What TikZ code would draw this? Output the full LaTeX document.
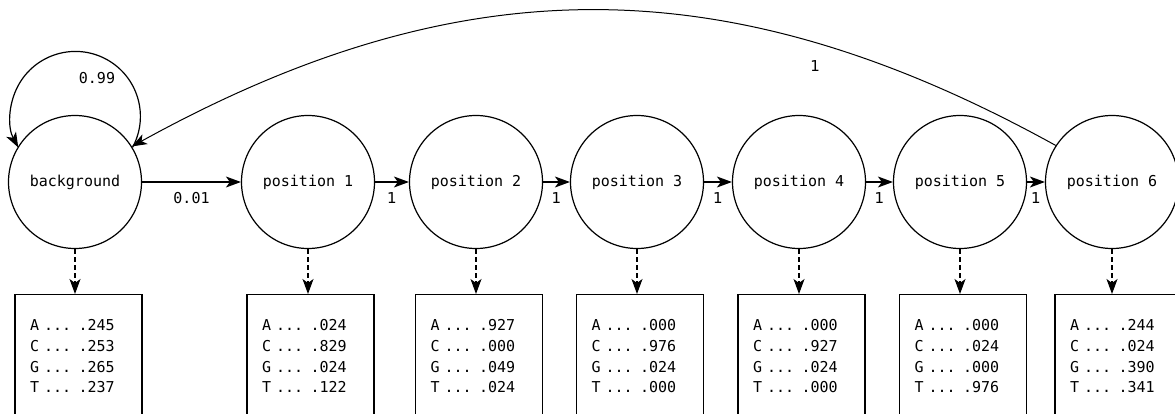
\documentclass[tikz,border=0pt]{standalone}
\usepackage{fontspec}
\newfontfamily\monof{DejaVu Sans Mono}[WordSpace={1,0,0}]
\newfontfamily\sansf{DejaVu Sans}
\usetikzlibrary{arrows.meta}
\begin{document}
\begin{tikzpicture}[x=1pt,y=1pt,
  state/.style={circle,draw,line width=1.2pt,minimum size=133pt,inner sep=0pt,font=\monof\fontsize{15}{18}\selectfont},
  emit/.style={rectangle,draw,line width=1.2pt,anchor=north,text width=97pt,align=left,inner xsep=15pt,inner ysep=25pt,font=\monof\fontsize{15}{20.7}\selectfont},
  trans/.style={-{Stealth[length=15pt,width=11pt,inset=4pt]},line width=1.2pt},
  gen/.style={trans,dash pattern=on 5pt off 3pt},
  plab/.style={font=\sansf\fontsize{15}{18}\selectfont},
  mlab/.style={font=\monof\fontsize{15}{18}\selectfont}]
\useasboundingbox (0,0) rectangle (1175,413);
\clip (0,0) rectangle (1175,413);

\node[state] (bg) at (75,231) {background};
\node[state] (p1) at (308,231) {position 1};
\node[state] (p2) at (476,231) {position 2};
\node[state] (p3) at (637,231) {position 3};
\node[state] (p4) at (799,231) {position 4};
\node[state] (p5) at (960,231) {position 5};
\node[state] (p6) at (1112,231) {position 6};

\node[emit] (ebg) at (78.5,119) {A ... .245\\C ... .253\\G ... .265\\T ... .237};
\node[emit] (e1) at (310.5,119) {A ... .024\\C ... .829\\G ... .024\\T ... .122};
\node[emit] (e2) at (479,119) {A ... .927\\C ... .000\\G ... .049\\T ... .024};
\node[emit] (e3) at (640,119) {A ... .000\\C ... .976\\G ... .024\\T ... .000};
\node[emit] (e4) at (801.5,119) {A ... .000\\C ... .927\\G ... .024\\T ... .000};
\node[emit] (e5) at (963,119) {A ... .000\\C ... .024\\G ... .000\\T ... .976};
\node[emit] (e6) at (1118.5,119) {A ... .244\\C ... .024\\G ... .390\\T ... .341};

\foreach \s/\e in {bg/ebg,p1/e1,p2/e2,p3/e3,p4/e4,p5/e5,p6/e6}
  \draw[gen] (\s.south) -- (\s.south |- \e.north);

\draw[trans] (bg) -- node[mlab,yshift=-16pt]{0.01} (p1);
\draw[trans] (p1) -- node[plab,yshift=-16pt]{1} (p2);
\draw[trans] (p2) -- node[plab,yshift=-16pt]{1} (p3);
\draw[trans] (p3) -- node[plab,yshift=-16pt]{1} (p4);
\draw[trans] (p4) -- node[plab,yshift=-16pt]{1} (p5);
\draw[trans] (p5) -- node[plab,yshift=-16pt]{1} (p6);

\draw[trans,line width=1pt] (p6.147.5) .. controls (729,448) and (461,448) .. node[plab,pos=0.255,yshift=-23pt]{1} (bg.32.5);

\draw[trans] (bg.31) arc[start angle=-28.5, end angle=208.5, radius=65];
\node[mlab] (l99) at (97,335) {0.99};
\end{tikzpicture}
\end{document}
